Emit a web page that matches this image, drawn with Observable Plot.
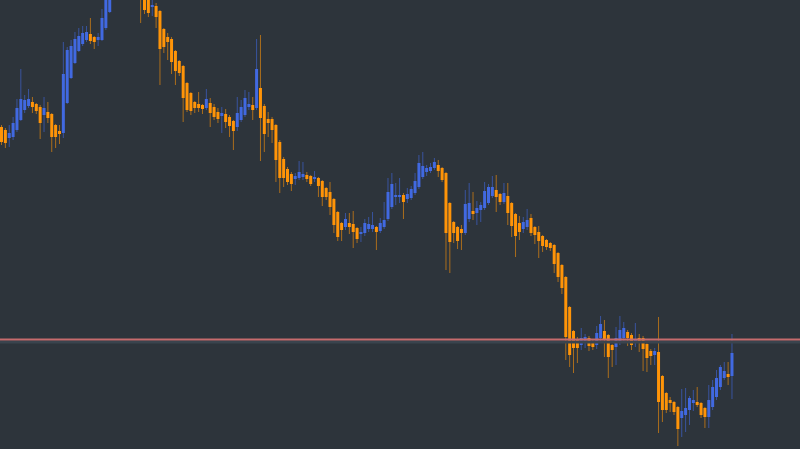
<!DOCTYPE html>
<html><head><meta charset="utf-8">
<script src="https://cdn.jsdelivr.net/npm/d3@7"></script>
<script src="https://cdn.jsdelivr.net/npm/@observablehq/plot@0.6"></script>
<style>html,body{margin:0;padding:0;background:#2d343b;overflow:hidden}</style>
</head><body><div id="chart"></div>
<script>
const open = [373,370,362,363,370,380,390,394,398,396,393,385,388,386,375,369,367,397,422,437,449,456,460,466,463,460,460,472,488,
518,533,548,541,556,545,531,
515,510,505,493,494,489,471,463,461,449,439,434,417,407,398,396,395,392,397,393,388,384,386,383,
379,373,380,385,393,395,392,412,394,381,381,375,358,341,331,326,321,322,323,325,324,321,322,319,312,308,301,288,277,273,
277,276,272,266,267,271,271,273,269,273,281,293,303,303,305,301,302,307,313,323,328,329,332,335,332,327,297,278,273,271,
267,281,289,287,290,292,297,304,310,306,298,304,297,286,277,271,273,282,273,268,264,260,257,255,247,235,223,193,169,160,
155,158,162,158,155,162,169,165,155,153,157,162,168,165,158,162,162,156,149,145,148,124,107,100,98,93,82,85,90,97,
98,97,92,83,93,103,113,122,126,124];
const high = [375,372,375,383,401,431,405,411,403,397,395,403,398,387,376,375,458,453,460,468,472,474,474,482,464,467,491,510,525,
540,555,556,562,560,549,534,
518,512,508,500,497,490,472,467,463,450,440,435,418,408,399,408,396,411,402,396,392,393,391,385,
380,403,400,410,408,403,461,465,396,388,383,376,360,343,333,328,327,339,338,328,325,329,323,320,313,318,302,289,278,287,
287,289,273,273,281,283,288,274,282,298,322,327,317,322,307,312,314,327,345,348,335,337,342,340,333,328,298,279,274,275,
310,317,308,299,298,318,316,324,325,307,317,317,298,287,284,283,291,286,274,274,265,261,258,256,248,236,224,194,170,163,
172,166,164,160,174,184,180,166,156,173,184,178,170,167,177,166,164,157,151,152,183,125,108,103,99,94,111,112,104,110,
113,98,93,115,120,130,135,138,138,166];
const low = [355,352,353,360,368,379,387,392,387,386,361,368,377,348,352,356,362,396,421,436,448,454,458,456,451,454,459,470,487,
515,530,536,538,540,526,512,
477,486,483,484,472,415,447,440,426,415,424,378,388,385,387,388,386,390,373,380,377,367,372,363,
350,369,378,383,390,380,390,339,348,363,357,318,307,313,315,309,315,320,320,318,314,318,303,294,300,285,267,259,259,270,
266,252,257,258,264,268,268,250,267,271,279,291,295,297,281,297,300,305,311,321,324,327,330,323,318,230,227,257,251,250,
265,278,280,275,278,290,295,302,288,295,296,275,263,243,260,267,270,264,256,242,248,250,249,227,218,206,140,133,127,137,
150,152,149,150,151,159,143,122,133,135,155,157,154,150,153,148,129,128,135,135,67,78,87,88,85,54,63,68,75,89,
93,82,72,72,90,100,110,120,115,101];
const close = [358,357,367,377,392,401,400,401,393,389,377,392,382,363,363,366,426,450,454,461,464,467,468,459,458,463,482,505,520,
535,548,540,556,545,530,518,
502,490,487,495,483,451,453,458,438,429,427,402,390,389,392,392,391,401,387,383,381,387,378,374,
369,387,393,402,396,390,431,382,366,377,370,340,322,322,318,316,324,328,326,321,316,323,314,303,303,293,275,263,270,281,
273,268,261,268,277,276,275,268,277,280,308,316,305,305,298,306,311,319,337,334,332,333,338,329,320,267,258,267,259,267,
296,297,286,292,295,309,313,313,303,298,307,287,274,264,268,278,280,267,265,259,254,253,252,236,223,212,163,145,152,152,
162,163,154,153,167,176,160,143,150,162,170,172,162,155,161,159,151,142,144,149,98,90,90,97,88,71,89,92,102,100,
95,85,83,100,113,122,133,129,123,147];
const refLevel = [161];

const upColor = "#4169e1", downColor = "#ff9408";
const data = open.map((o, i) => ({i, open: o, high: high[i], low: low[i], close: close[i], c: close[i] >= o ? upColor : downColor}));

const chart = Plot.plot({
  width: 800, height: 449, margin: 0,
  style: {background: "#2d343b"},
  x: {domain: [-0.26, 206.73], axis: null},
  y: {domain: [51, 500], axis: null},
  color: {type: "identity"},
  marks: [
    Plot.ruleX(data, {x: "i", y1: "low", y2: "high", stroke: "c", strokeOpacity: 0.6, strokeWidth: 1, clip: true}),
    Plot.ruleX(data, {x: "i", y1: "open", y2: "close", stroke: "c", strokeWidth: 3, clip: true}),
    Plot.ruleY(refLevel, {dy: 2.5, stroke: "#3a444e", strokeWidth: 3}),
    Plot.ruleY(refLevel, {stroke: "#c66b6d", strokeWidth: 2})
  ]
});
document.getElementById("chart").appendChild(chart);
</script>
</body></html>
